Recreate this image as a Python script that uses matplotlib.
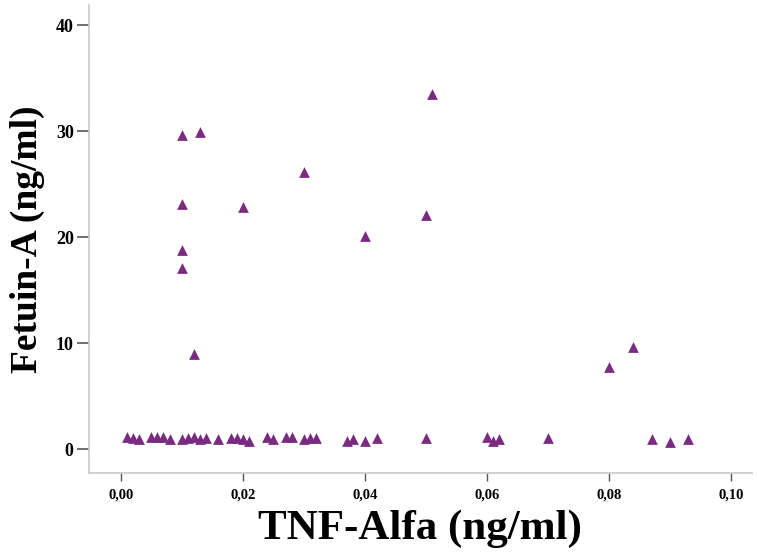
import matplotlib.pyplot as plt
from matplotlib.ticker import FuncFormatter

# TNF-Alfa vs Fetuin-A values
tnf_high = [0.010, 0.013, 0.010, 0.010, 0.010, 0.012, 0.020, 0.030, 0.040, 0.050, 0.051, 0.080, 0.084]
fetuin_high = [29.6, 29.9, 23.1, 18.8, 17.1, 9.0, 22.8, 26.1, 20.1, 22.1, 33.5, 7.7, 9.6]

tnf_low = [0.001, 0.002, 0.003, 0.005, 0.006, 0.007, 0.008, 0.010, 0.011, 0.012,
           0.013, 0.014, 0.016, 0.018, 0.019, 0.020, 0.021, 0.024, 0.025, 0.027,
           0.028, 0.030, 0.031, 0.032, 0.037, 0.038, 0.040, 0.042, 0.050, 0.060,
           0.061, 0.062, 0.070, 0.087, 0.090, 0.093]
fetuin_low = [1.1, 1.0, 0.9, 1.1, 1.1, 1.1, 0.9, 0.9, 1.0, 1.1,
              0.9, 1.0, 0.9, 1.0, 1.0, 0.9, 0.8, 1.1, 0.9, 1.1,
              1.1, 0.9, 1.0, 1.0, 0.8, 0.9, 0.8, 1.0, 1.0, 1.1,
              0.8, 0.9, 1.0, 0.9, 0.7, 0.9]

tnf = tnf_high + tnf_low
fetuin = fetuin_high + fetuin_low

plt.rcParams['font.family'] = ['Liberation Serif', 'DejaVu Serif']

fig = plt.figure(figsize=(7.57, 5.60), dpi=100)
ax = fig.add_axes([0.1176, 0.1554, 0.8754, 0.8356])

ax.scatter(tnf, fetuin, marker='^', s=60, color='#7b2a82', linewidths=0, zorder=3)

ax.set_xlim(-0.0052, 0.1034)
ax.set_ylim(-2.26, 41.9)
ax.set_xticks([0, 0.02, 0.04, 0.06, 0.08, 0.10])
ax.set_yticks([0, 10, 20, 30, 40])
ax.xaxis.set_major_formatter(FuncFormatter(lambda v, p: f"{v:.2f}".replace('.', ',')))

for side in ['top', 'right']:
    ax.spines[side].set_visible(False)
for side in ['left', 'bottom']:
    ax.spines[side].set_color('#c8c8c8')
    ax.spines[side].set_linewidth(1.2)

ax.tick_params(axis='x', direction='out', length=6, width=1, color='#555555', pad=5)
ax.tick_params(axis='y', direction='out', length=9, width=1.2, color='#555555', pad=2)
for lbl in ax.get_xticklabels():
    lbl.set_fontweight('bold')
    lbl.set_fontsize(10.5)
for lbl in ax.get_yticklabels():
    lbl.set_fontweight('bold')
    lbl.set_fontsize(13)

ax.set_xlabel("TNF-Alfa (ng/ml)", fontsize=31, fontweight='bold', labelpad=6)
ax.set_ylabel("Fetuin-A (ng/ml)", fontsize=27, fontweight='bold', labelpad=8)

fig.savefig("out.png", dpi=100)
